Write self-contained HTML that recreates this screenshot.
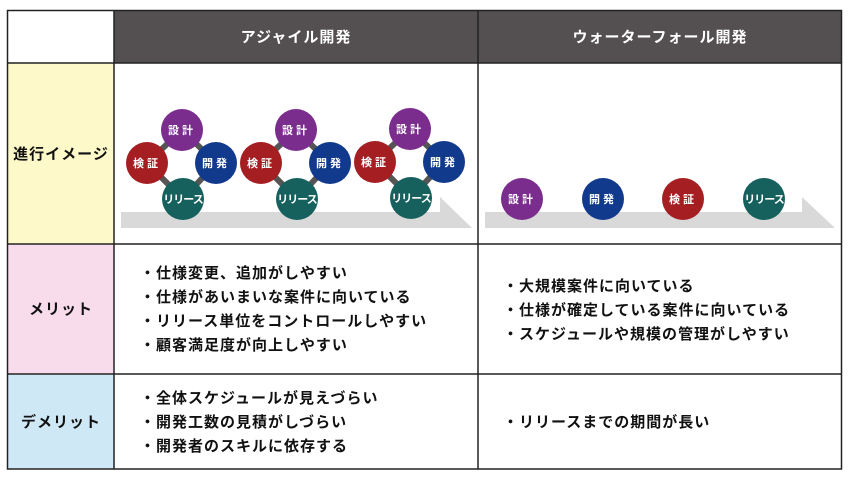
<!DOCTYPE html>
<html><head><meta charset="utf-8"><style>
html,body{margin:0;padding:0;background:#fff;}
svg text{font-family:"Liberation Sans","Noto Sans CJK JP",sans-serif;font-weight:bold;}
</style></head><body>
<svg width="850" height="481" viewBox="0 0 850 481" xmlns="http://www.w3.org/2000/svg">
<defs>
<g id="cyc">
  <g stroke="#555" stroke-width="6">
    <line x1="0" y1="0" x2="-35" y2="33"/><line x1="0" y1="0" x2="34" y2="33"/>
    <line x1="-35" y1="33" x2="1" y2="69"/><line x1="34" y1="33" x2="1" y2="69"/>
  </g>
  <circle cx="0" cy="0" r="21" fill="#7b2d8e"/>
  <circle cx="-35" cy="33" r="21" fill="#a51e22"/>
  <circle cx="34" cy="33" r="21" fill="#123a8c"/>
  <circle cx="1" cy="69" r="21" fill="#16605d"/>
  <g fill="#fff" font-size="11" text-anchor="middle">
    <text x="0" y="4" letter-spacing="3">設計</text>
    <text x="-35" y="37" letter-spacing="3">検証</text>
    <text x="34" y="37" letter-spacing="3">開発</text>
    <text x="1" y="73" letter-spacing="-1">リリース</text>
  </g>
</g>
</defs>
<!-- backgrounds -->
<rect x="7" y="10" width="107" height="53" fill="#fff"/>
<rect x="114" y="10" width="728" height="53" fill="#545051"/>
<rect x="7" y="63" width="107" height="181" fill="#fdf9c9"/>
<rect x="7" y="244" width="107" height="130" fill="#f9dcec"/>
<rect x="7" y="374" width="107" height="95" fill="#cfe8f6"/>
<!-- grid -->
<g stroke="#222" stroke-width="1.5" fill="none">
<rect x="7.5" y="10.5" width="834" height="458.5"/>
<line x1="114" y1="10" x2="114" y2="469"/>
<line x1="478" y1="10" x2="478" y2="469"/>
<line x1="7" y1="63" x2="842" y2="63"/>
<line x1="7" y1="244" x2="842" y2="244"/>
<line x1="7" y1="374" x2="842" y2="374"/>
</g>
<!-- headers -->
<g fill="#fff" font-size="15" text-anchor="middle" letter-spacing="1">
<text x="296" y="42">アジャイル開発</text>
<text x="660" y="42">ウォーターフォール開発</text>
</g>
<g fill="#111" font-size="15" text-anchor="middle" letter-spacing="1">
<text x="61" y="159">進行イメージ</text>
<text x="61" y="314">メリット</text>
<text x="61" y="427">デメリット</text>
</g>
<!-- arrows -->
<polygon points="121,212 440,212 440,197 472,228 121,228" fill="#d9d9d9"/>
<polygon points="485,212 802,212 802,197 835,228 485,228" fill="#d9d9d9"/>
<use href="#cyc" x="182" y="130"/>
<use href="#cyc" x="296" y="130"/>
<use href="#cyc" x="410" y="129"/>
<!-- waterfall -->
<circle cx="522" cy="199" r="21" fill="#7b2d8e"/>
<circle cx="603" cy="199" r="21" fill="#123a8c"/>
<circle cx="683" cy="199" r="21" fill="#a51e22"/>
<circle cx="764" cy="199" r="21" fill="#16605d"/>
<g fill="#fff" font-size="11" text-anchor="middle">
<text x="522" y="203" letter-spacing="3">設計</text>
<text x="603" y="203" letter-spacing="3">開発</text>
<text x="683" y="203" letter-spacing="3">検証</text>
<text x="764" y="203" letter-spacing="-1">リリース</text>
</g>
<!-- lists -->
<g fill="#111" font-size="15" letter-spacing="1">
<text x="140" y="278">・仕様変更、追加がしやすい</text>
<text x="140" y="302">・仕様があいまいな案件に向いている</text>
<text x="140" y="326">・リリース単位をコントロールしやすい</text>
<text x="140" y="350">・顧客満足度が向上しやすい</text>
<text x="503" y="291">・大規模案件に向いている</text>
<text x="503" y="315">・仕様が確定している案件に向いている</text>
<text x="503" y="339">・スケジュールや規模の管理がしやすい</text>
<text x="140" y="403">・全体スケジュールが見えづらい</text>
<text x="140" y="427">・開発工数の見積がしづらい</text>
<text x="140" y="451">・開発者のスキルに依存する</text>
<text x="503" y="427">・リリースまでの期間が長い</text>
</g>
</svg>
</body></html>
